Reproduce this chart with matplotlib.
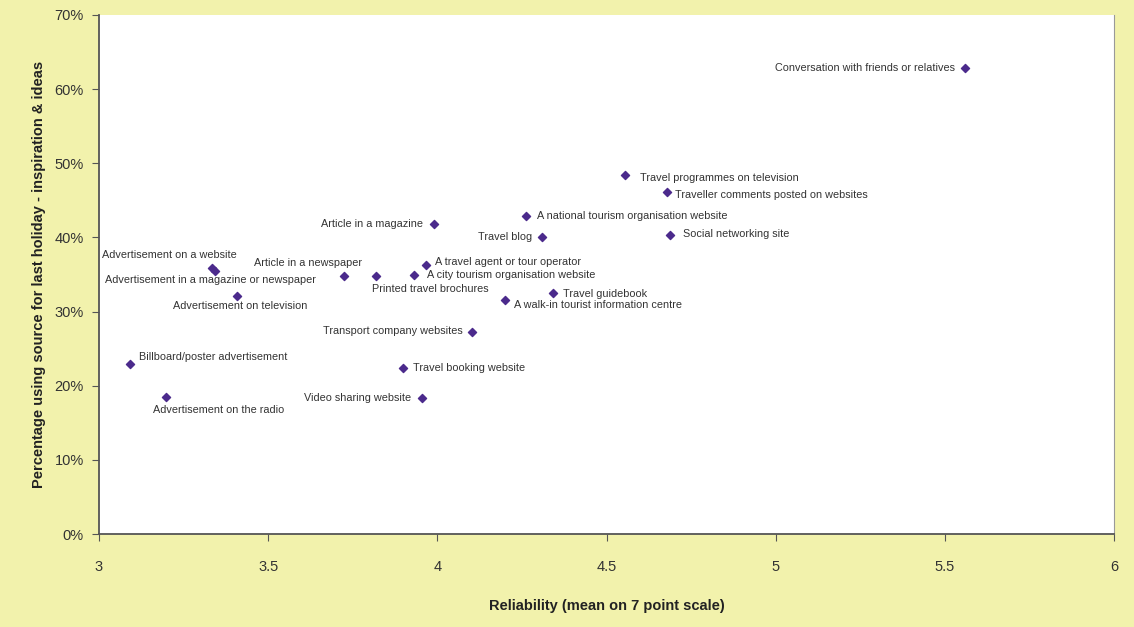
import numpy as np
import matplotlib.pyplot as plt
from matplotlib.ticker import FuncFormatter

# data
sources = ['Conversation with friends or relatives', 'Travel programmes on television',
           'Traveller comments posted on websites', 'A national tourism organisation website',
           'Article in a magazine', 'Travel blog', 'Social networking site',
           'Advertisement on a website', 'Advertisement in a magazine or newspaper',
           'Article in a newspaper', 'Printed travel brochures', 'A travel agent or tour operator',
           'A city tourism organisation website', 'Advertisement on television', 'Travel guidebook',
           'A walk-in tourist information centre', 'Transport company websites',
           'Billboard/poster advertisement', 'Travel booking website', 'Video sharing website',
           'Advertisement on the radio']
reliability = [5.56, 4.555, 4.679, 4.262, 3.990, 4.310, 4.688, 3.334, 3.343, 3.724, 3.818,
               3.966, 3.931, 3.408, 4.342, 4.200, 4.103, 3.092, 3.899, 3.956, 3.198]
usage = [62.9, 48.4, 46.1, 42.9, 41.8, 40.1, 40.3, 35.9, 35.5, 34.8, 34.8,
         36.3, 34.9, 32.1, 32.5, 31.6, 27.2, 22.9, 22.4, 18.3, 18.5]

# label placement (offset in pixels, horizontal alignment)
offsets = [(-10, 0, 'right'), (15, -3, 'left'), (8, -3, 'left'), (11, 0, 'left'),
           (-11, 0, 'right'), (-10, 0, 'right'), (13, 1, 'left'), (25, 13, 'right'),
           (-5, -9, 'center'), (18, 13, 'right'), (-4, -13, 'left'), (9, 3, 'left'),
           (13, 0, 'left'), (3, -10, 'center'), (10, -1, 'left'), (9, -5, 'left'),
           (-9, 1, 'right'), (9, 7, 'left'), (10, 0, 'left'), (-11, 0, 'right'),
           (-13, -13, 'left')]

bg = '#F2F2AC'
fig = plt.figure(figsize=(11.34, 6.27), dpi=100, facecolor=bg)
ax = fig.add_axes([99/1134, 93/627, 1015/1134, 519/627])
ax.set_facecolor('white')

ax.scatter(reliability, usage, marker='D', s=17, color='#4B2A8C', zorder=3)
for name, x, y, (dx, dy, ha) in zip(sources, reliability, usage, offsets):
    ax.annotate(name, (x, y), xytext=(dx, dy), textcoords='offset pixels',
                ha=ha, va='center', fontsize=7.8, color='#333333', family='Liberation Sans')

ax.set_xlim(3, 6)
ax.set_ylim(0, 70)
ax.set_xticks(np.arange(3, 6.01, 0.5))
ax.set_yticks(np.arange(0, 71, 10))
ax.xaxis.set_major_formatter(FuncFormatter(lambda v, p: ('%g' % v)))
ax.yaxis.set_major_formatter(FuncFormatter(lambda v, p: '%d%%' % v))
ax.tick_params(direction='out', length=5, color='#555555', labelsize=10.5,
               labelcolor='#333333', pad=6)
ax.tick_params(axis='x', pad=14)
for t in ax.get_xticklabels() + ax.get_yticklabels():
    t.set_family('Liberation Sans')

ax.spines['top'].set_visible(False)
ax.spines['right'].set_color('#999999')
ax.spines['left'].set_color('#555555')
ax.spines['bottom'].set_color('#555555')
ax.spines['left'].set_linewidth(1.3)
ax.spines['bottom'].set_linewidth(1.3)

ax.set_xlabel('Reliability (mean on 7 point scale)', fontsize=10.5, fontweight='bold',
              family='Liberation Sans', labelpad=18, color='#222222')
ax.set_ylabel('Percentage using source for last holiday - inspiration & ideas', fontsize=10.5,
              fontweight='bold', family='Liberation Sans', labelpad=6, color='#222222')

fig.savefig('out.png', dpi=100, facecolor=bg)
